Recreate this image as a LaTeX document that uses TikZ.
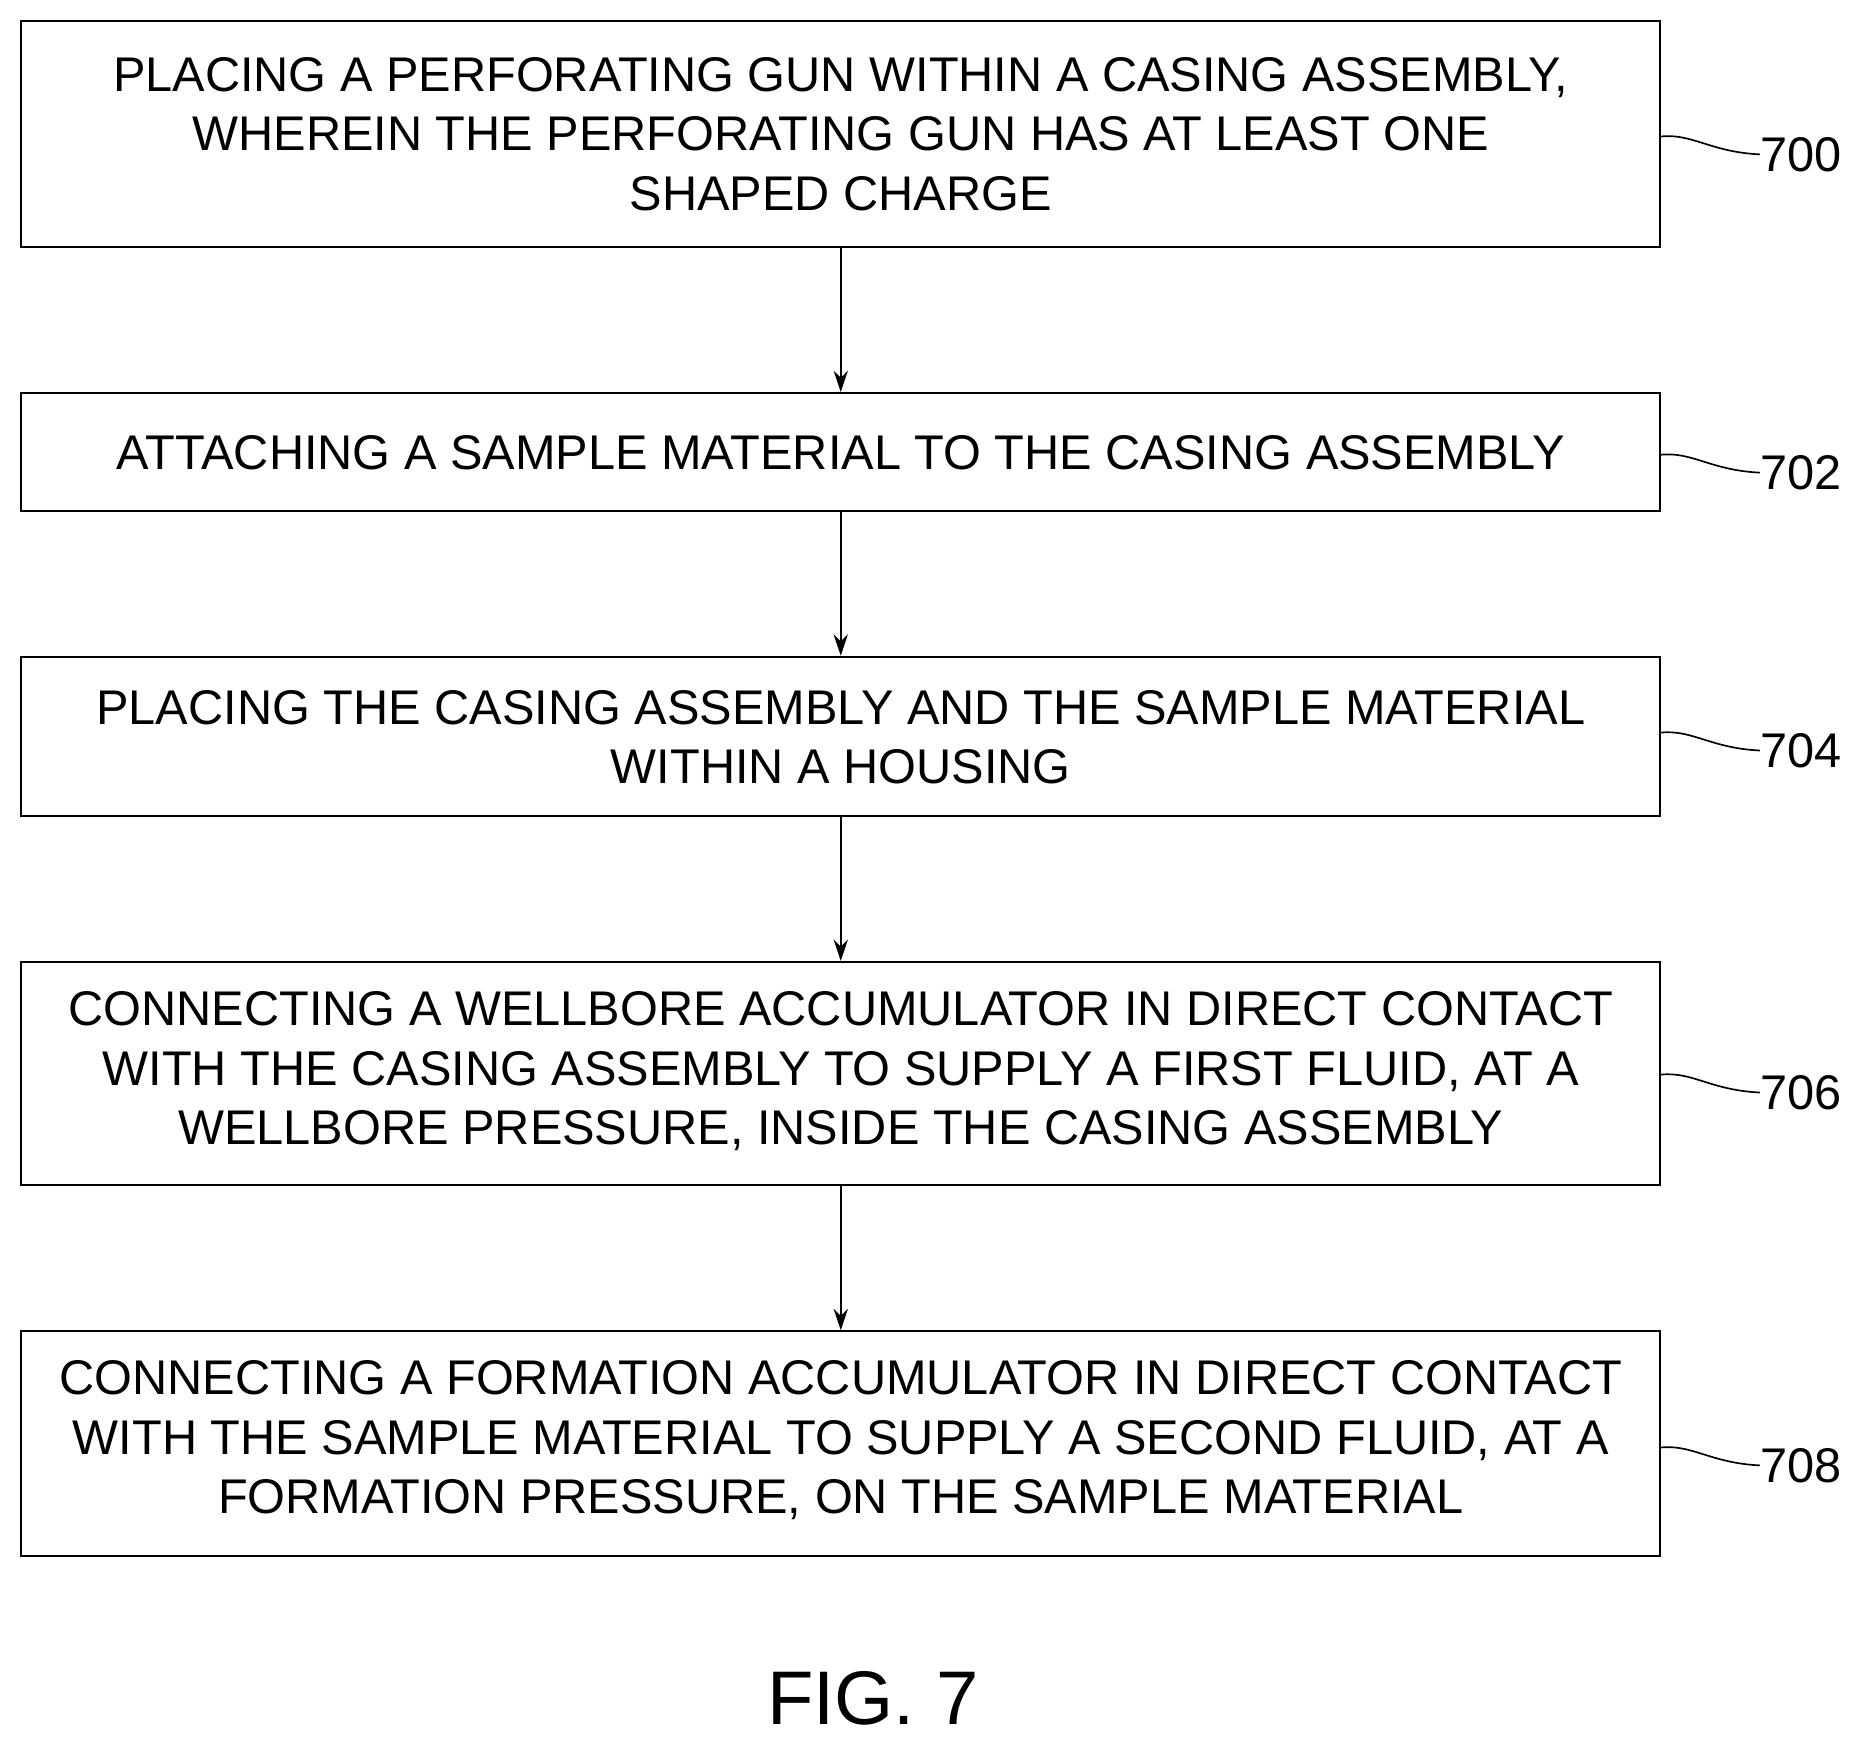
\documentclass[tikz,border=0pt]{standalone}
\usepackage{fontspec}
\setmainfont{Liberation Sans}
\usetikzlibrary{arrows.meta}
\begin{document}
\begin{tikzpicture}[x=0.5pt,y=-0.5pt,
  box/.style={draw,line width=0.8pt,rectangle},
  txt/.style={align=center,font=\fontsize{20.5}{25}\selectfont,inner sep=0},
  lab/.style={font=\fontsize{20.5}{25}\selectfont,anchor=west,inner sep=0},
  arr/.style={-{Stealth[length=9pt,width=6pt]},line width=0.8pt},
  lead/.style={line width=0.7pt}]
\useasboundingbox (0,0) rectangle (1568,1469);
\node[box,minimum width=690pt,minimum height=95pt] (b0) at (708,113) {};
\node[txt] at (708,113) {PLACING A PERFORATING GUN WITHIN A CASING ASSEMBLY,\\WHEREIN THE PERFORATING GUN HAS AT LEAST ONE\\SHAPED CHARGE};
\node[box,minimum width=690pt,minimum height=49.5pt] (b1) at (708,380.5) {};
\node[txt] at (708,381) {ATTACHING A SAMPLE MATERIAL TO THE CASING ASSEMBLY};
\node[box,minimum width=690pt,minimum height=67pt] (b2) at (708,620) {};
\node[txt] at (708,621) {PLACING THE CASING ASSEMBLY AND THE SAMPLE MATERIAL\\WITHIN A HOUSING};
\node[box,minimum width=690pt,minimum height=94pt] (b3) at (708,904) {};
\node[txt] at (708,902) {CONNECTING A WELLBORE ACCUMULATOR IN DIRECT CONTACT\\WITH THE CASING ASSEMBLY TO SUPPLY A FIRST FLUID, AT A\\WELLBORE PRESSURE, INSIDE THE CASING ASSEMBLY};
\node[box,minimum width=690pt,minimum height=94.5pt] (b4) at (708,1215.5) {};
\node[txt] at (708,1213) {CONNECTING A FORMATION ACCUMULATOR IN DIRECT CONTACT\\WITH THE SAMPLE MATERIAL TO SUPPLY A SECOND FLUID, AT A\\FORMATION PRESSURE, ON THE SAMPLE MATERIAL};
\draw[arr] (b0.south) -- (b1.north);
\draw[arr] (b1.south) -- (b2.north);
\draw[arr] (b2.south) -- (b3.north);
\draw[arr] (b3.south) -- (b4.north);
\foreach \n/\y/\t in {b0/130/700,b1/398/702,b2/632/704,b3/920/706,b4/1234/708}{
  \node[lab] (l\t) at (1482,\y) {\t};
  \coordinate (s\t) at (1398,\y-15);
  \draw[lead] (s\t) .. controls (1425,\y-18) and (1440,\y-2) .. (l\t.west);
}
\node[font=\fontsize{32}{38}\selectfont,inner sep=0] (fig) at (735,1430) {FIG. 7};
\end{tikzpicture}
\end{document}
